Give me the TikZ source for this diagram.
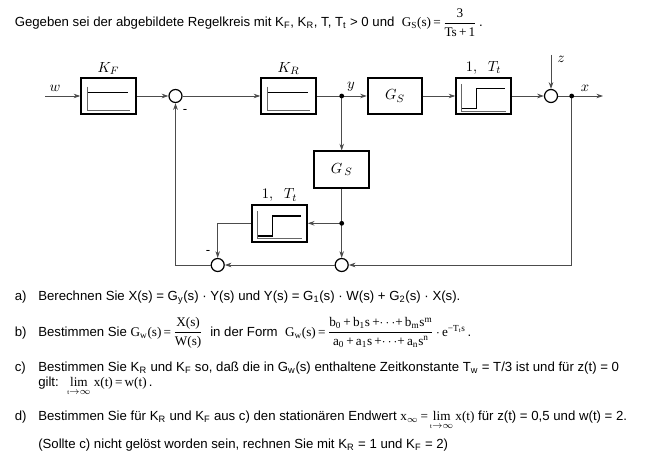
\documentclass[tikz,border=0pt]{standalone}
\usepackage[no-math]{fontspec}
\setmainfont{Liberation Sans}
\newfontfamily\tms{Liberation Serif}
\usetikzlibrary{arrows.meta,positioning,calc}

\newcommand{\tsub}[1]{\textsubscript{#1}}
\newcommand{\tx}[1]{\hbox{\tms #1}}
\newcommand{\wfrac}[2]{$\displaystyle\frac{\tx{#1}}{\tx{#2}}$}

\begin{document}
\begin{tikzpicture}[x=0.75pt, y=-0.75pt, >={Stealth[length=5pt,width=3.4pt]},
  font=\fontsize{9.9}{12}\selectfont]
\tikzstyle{block}=[draw=black, line width=1.4pt, minimum width=41pt, minimum height=27.5pt, inner sep=0pt, font=\fontsize{11}{13}\selectfont]
\tikzstyle{sum}=[draw=black, circle, line width=0.9pt, minimum size=9.75pt, inner sep=0pt, fill=white]
\tikzstyle{dot}=[circle, fill=black, inner sep=0pt, minimum size=3.6pt]
\tikzstyle{line}=[draw=black!70, line width=0.6pt]
\tikzstyle{axis}=[draw=black!60, line width=0.6pt]
\tikzstyle{resp}=[draw=black, line width=1.1pt]
\tikzstyle{lbl}=[inner sep=0pt, font=\fontsize{11}{13}\selectfont]
\tikzstyle{txt}=[anchor=base west, inner sep=0pt]
\useasboundingbox (0,0) rectangle (653,474);

% task text on top
\node[txt] (head) at (14.5,27) {Gegeben sei der abgebildete Regelkreis mit K\tsub{F}, K\tsub{R}, T, T\tsub{t} > 0 und \ {\tms G\tsub{S}(s)\,=\,}\wfrac{3}{Ts\,+\,1}\,.};

% blocks and summing points
\node[block] (KF)  at (108.5,96) {};
\node[sum]   (s1)  at (175.5,96) {};
\node[block] (KR)  at (288.5,96) {};
\node[block] (GS)  at (395,96)   {$G_S$};
\node[block] (Tt)  at (483.5,96) {};
\node[sum]   (s2)  at (551,96)   {};
\node[block] (GS2) at (341.7,169.7) {$G_{\,S}$};
\node[block] (Tt2) at (279.5,223.3) {};
\node[sum]   (s3)  at (217.7,265) {};
\node[sum]   (s4)  at (341.7,265) {};
\coordinate (win)  at (45,96);
\coordinate (zin)  at (551,55);
\coordinate (xout) at (603,96);
\coordinate (yb)   at (341.7,96);
\coordinate (xb)   at (571.7,96);
\coordinate (gb)   at (341.7,223.3);

% block symbols
\foreach \b in {KF,KR}{
  \draw[axis,shift={(\b.center)}] (-21,-9.3) -- (-21,14.3) -- (21.5,14.3);
  \draw[resp,shift={(\b.center)}] (-21,-3.7) -- (19.5,-3.7);
}
\foreach \b in {Tt,Tt2}{
  \draw[axis,shift={(\b.center)}] (-21.8,-12.2) -- (-21.8,15) -- (22.5,15);
  \draw[resp,shift={(\b.center)}] (-21.8,12.6) -| (-6.8,-7.4) -- (21.5,-7.4);
}

% labels
\node[lbl] (lKF) [above=1.5pt of KF] {$K_F$};
\node[lbl] (lKR) [above=1.5pt of KR] {$K_R$};
\node[lbl] (lTt) [above=1.5pt of Tt] {$1,\;\;T_t$};
\node[lbl] (lTt2) [above=1.5pt of Tt2] {$1,\;\;T_t$};
\node[lbl] (lw) at (55,88) {$w$};
\node[lbl] (ly) at (351,87) {$y$};
\node[lbl] (lz) at (561,59) {$z$};
\node[lbl] (lx) at (585,88) {$x$};
\node[inner sep=0pt] (m1) at (185,111) {-};
\node[inner sep=0pt] (m2) at (208,252) {-};

% connections
\draw[line,->] (win) -- (KF);
\draw[line,->] (KF) -- (s1);
\draw[line,->] (s1) -- (KR);
\draw[line,->] (KR) -- (GS);
\draw[line,->] (GS) -- (Tt);
\draw[line,->] (Tt) -- (s2);
\draw[line,->] (zin) -- (s2);
\draw[line,->] (s2) -- (xout);
\draw[line,->] (yb) -- (GS2);
\draw[line,->] (GS2) -- (s4);
\draw[line,->] (gb) -- (Tt2);
\draw[line,->] (Tt2) -| (s3);
\draw[line,->] (xb) |- (s4);
\draw[line,->] (s4) -- (s3);
\draw[line,->] (s3) -| (s1);
\node[dot] (dy) at (yb) {};
\node[dot] (dx) at (xb) {};
\node[dot] (dg) at (gb) {};

% questions
\node[txt] (la) at (14.5,300) {a)};
\node[txt] (ta) at (38,300) {Berechnen Sie X(s) = G\tsub{y}(s) · Y(s) und Y(s) = G\tsub{1}(s) · W(s) + G\tsub{2}(s) · X(s).};
\node[txt] (lb) at (14.5,336) {b)};
\node[txt] (tb) at (38,336) {Bestimmen Sie {\tms G\tsub{w}(s)\,=\,}\wfrac{X(s)}{W(s)} \ in der Form \ {\tms G\tsub{w}(s)\,=\,}\wfrac{b\tsub{0}\,+\,b\tsub{1}s\,+$\cdots$+\,b\tsub{m}s\textsuperscript{m}}{a\tsub{0}\,+\,a\tsub{1}s\,+$\cdots$+\,a\tsub{n}s\textsuperscript{n}}{\tms\,$\cdot$\,e\textsuperscript{−T\tsub{t}s}}\,.};
\node[txt] (lc) at (14.5,371) {c)};
\node[txt] (tc) at (38,371) {Bestimmen Sie K\tsub{R} und K\tsub{F} so, daß die in G\tsub{w}(s) enthaltene Zeitkonstante T\tsub{w} = T/3 ist und für z(t) = 0};
\node[txt] (tc2) at (38,386) {gilt: \ {\tms$\mathop{\tx{lim}}\limits_{\tx{\fontsize{5}{5}\selectfont t}\to\infty}$ x(t)\,=\,w(t)}\,.};
\node[txt] (ld) at (14.5,420) {d)};
\node[txt] (td) at (38,420) {Bestimmen Sie für K\tsub{R} und K\tsub{F} aus c) den stationären Endwert {\tms x$_\infty$\,=\,$\mathop{\tx{lim}}\limits_{\tx{\fontsize{5}{5}\selectfont t}\to\infty}$\,x(t)} für z(t) = 0,5 und w(t) = 2.};
\node[txt] (te) at (38,448) {(Sollte c) nicht gelöst worden sein, rechnen Sie mit K\tsub{R} = 1 und K\tsub{F} = 2)};
\end{tikzpicture}
\end{document}
